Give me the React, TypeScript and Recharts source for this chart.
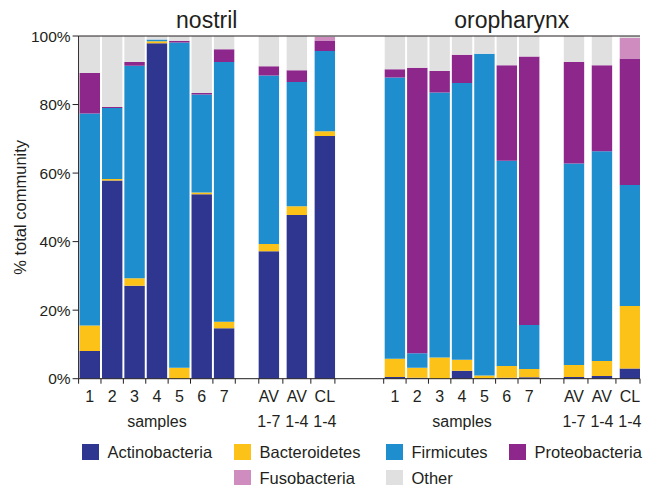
import React from 'react';
import { BarChart, Bar, XAxis, YAxis, ReferenceLine, ReferenceArea, Legend } from 'recharts';

// ---- data ----
const categories = ['1', '2', '3', '4', '5', '6', '7', 'AV 1-7', 'AV 1-4', 'CL 1-4'];
const siteNames = ['nostril', 'oropharynx'];
const phyla = ['Actinobacteria', 'Bacteroidetes', 'Firmicutes', 'Proteobacteria', 'Fusobacteria', 'Other'];
const phylumColors = ['#2e3690', '#fdc218', '#1f8ecf', '#8e278c', '#cf8cbf', '#e0e0e0'];
const yTicks = [0, 20, 40, 60, 80, 100];

const nostrilActinobacteria = [8.1, 57.8, 27.1, 97.9, 0, 53.8, 14.7, 37.2, 47.8, 70.8];
const nostrilBacteroidetes = [7.4, 0.5, 2.2, 0.6, 3.2, 0.5, 1.9, 2.1, 2.5, 1.4];
const nostrilFirmicutes = [61.9, 20.7, 62.0, 0.5, 94.9, 28.6, 75.8, 49.2, 36.3, 23.4];
const nostrilProteobacteria = [11.8, 0.3, 1.1, 0, 0.5, 0.5, 3.7, 2.7, 3.4, 3.1];
const nostrilFusobacteria = [0, 0, 0, 0, 0, 0, 0, 0, 0, 1.0];
const nostrilOther = [10.8, 20.7, 7.6, 1.0, 1.4, 16.6, 3.9, 8.8, 10.0, 0.3];

const oroActinobacteria = [0.5, 0.3, 0, 2.3, 0, 0.3, 0.4, 0.5, 0.8, 3.0];
const oroBacteroidetes = [5.3, 2.9, 6.2, 3.2, 0.9, 3.4, 2.4, 3.5, 4.4, 18.2];
const oroFirmicutes = [82.1, 4.2, 77.3, 80.8, 93.9, 59.9, 12.9, 58.8, 61.2, 35.3];
const oroProteobacteria = [2.4, 83.3, 6.3, 8.2, 0, 27.9, 78.3, 29.6, 25.1, 36.9];
const oroFusobacteria = [0, 0, 0, 0, 0, 0, 0, 0, 0, 6.0];
const oroOther = [9.7, 9.3, 10.2, 5.5, 5.2, 8.5, 6.0, 7.6, 8.5, 0.6];

const siteSeries = [
  [nostrilActinobacteria, nostrilBacteroidetes, nostrilFirmicutes, nostrilProteobacteria, nostrilFusobacteria, nostrilOther],
  [oroActinobacteria, oroBacteroidetes, oroFirmicutes, oroProteobacteria, oroFusobacteria, oroOther],
];

// ---- layout (in axis units; one sample band = 1) ----
const SAMPLE_COUNT = 7;
const AVG_LEAD = 1.5;
const AVG_STEP = 1.25;
const HALF_BAR = 0.45;
const SITE_STEP = 13.63;
const TICK_SIZE = 5;
const TEXT = '#231f20';
const FONT = '"Liberation Sans", Arial, Helvetica, sans-serif';

const centerOf = (i: number) => (i < SAMPLE_COUNT ? i + 0.5 : SAMPLE_COUNT + AVG_LEAD + (i - SAMPLE_COUNT) * AVG_STEP);
const siteEnd = centerOf(categories.length - 1) + HALF_BAR;
const domainMax = SITE_STEP + siteEnd;

const rows = siteNames.flatMap((_, s) =>
  categories.map((cat, i) => {
    const row: any = { pos: s * SITE_STEP + centerOf(i), cat };
    phyla.forEach((p, k) => {
      row[p] = siteSeries[s][k][i];
    });
    return row;
  })
);

type TickInfo = { kind: 'edge' } | { kind: 'label'; label: string; sub?: string };
const tickInfo = new Map<string, TickInfo>();
const tickValues: number[] = [];
const keyOf = (v: number) => v.toFixed(4);
siteNames.forEach((_, s) => {
  const off = s * SITE_STEP;
  const edges: number[] = [];
  for (let i = 0; i <= SAMPLE_COUNT; i++) edges.push(i);
  const avgCenters = categories.slice(SAMPLE_COUNT).map((_, j) => centerOf(SAMPLE_COUNT + j));
  edges.push(avgCenters[0] - HALF_BAR);
  for (let j = 1; j < avgCenters.length; j++) edges.push((avgCenters[j - 1] + avgCenters[j]) / 2);
  edges.push(avgCenters[avgCenters.length - 1] + HALF_BAR);
  edges.forEach((e) => {
    const v = off + e;
    tickValues.push(v);
    tickInfo.set(keyOf(v), { kind: 'edge' });
  });
  categories.forEach((cat, i) => {
    const v = off + centerOf(i);
    tickValues.push(v);
    tickInfo.set(keyOf(v), { kind: 'label', label: cat, sub: i === 3 ? 'samples' : undefined });
  });
});
tickValues.sort((a, b) => a - b);

const XTick = (props: any) => {
  const { x, y, payload } = props;
  const info = tickInfo.get(keyOf(payload.value));
  const axisY = y - TICK_SIZE;
  if (!info) return null;
  if (info.kind === 'edge') {
    return <line x1={x} x2={x} y1={axisY} y2={axisY + TICK_SIZE} stroke={TEXT} strokeWidth={1} />;
  }
  const lines = info.label.split(' ');
  if (info.sub) lines.push(info.sub);
  return (
    <g>
      {lines.map((t, i) => (
        <text key={i} x={x} y={axisY + 23 + i * 25} textAnchor="middle" fill={TEXT} fontSize={16} fontFamily={FONT}>
          {t}
        </text>
      ))}
    </g>
  );
};

const LegendContent = () => {
  const placement = [
    [1, 1], [1, 2], [1, 3], [1, 4], [2, 2], [2, 3],
  ];
  return (
    <div
      style={{
        display: 'grid',
        gridTemplateColumns: '152px 152px 123px 136px',
        gridTemplateRows: '26px 26px',
        paddingLeft: 82,
        fontFamily: FONT,
        fontSize: 16.5,
        color: TEXT,
      }}
    >
      {phyla.map((p, k) => (
        <div
          key={p}
          style={{ gridRow: placement[k][0], gridColumn: placement[k][1], display: 'flex', alignItems: 'center', whiteSpace: 'nowrap' }}
        >
          <span style={{ display: 'inline-block', width: 17, height: 16, background: phylumColors[k], marginRight: 8.5 }} />
          {p}
        </div>
      ))}
    </div>
  );
};

export default function App() {
  return (
    <div style={{ position: 'absolute', left: 0, top: 0, width: 645, height: 485, background: '#fff' }}>
      <BarChart width={645} height={485} data={rows} margin={{ top: 36, right: 5, bottom: 46.3, left: 0 }}>
        <XAxis
          dataKey="pos"
          type="number"
          domain={[0, domainMax]}
          allowDataOverflow
          ticks={tickValues}
          interval={0}
          tick={<XTick />}
          tickLine={false}
          tickSize={TICK_SIZE}
          tickMargin={0}
          height={60}
          axisLine={{ stroke: TEXT, strokeWidth: 1 }}
        />
        <YAxis
          width={78.6}
          domain={[0, 100]}
          allowDataOverflow
          ticks={yTicks}
          interval={0}
          tickFormatter={(v: number) => `${v}%`}
          tickSize={6}
          tickMargin={2}
          axisLine={{ stroke: TEXT, strokeWidth: 1 }}
          tickLine={{ stroke: TEXT }}
          tick={{ fill: TEXT, fontSize: 15.5, fontFamily: FONT }}
          label={{ value: '% total community', angle: -90, position: 'center', dx: -19, fill: TEXT, fontSize: 16.5, fontFamily: FONT }}
        />
        {phyla.map((p, k) => (
          <Bar key={p} dataKey={p} stackId="a" fill={phylumColors[k]} barSize={20.4} isAnimationActive={false} />
        ))}
        <ReferenceLine y={100} stroke={TEXT} strokeWidth={1} ifOverflow="visible" />
        {siteNames.map((name, s) => (
          <ReferenceArea
            key={name}
            x1={s * SITE_STEP}
            x2={s * SITE_STEP + siteEnd}
            y1={100}
            y2={109.4}
            ifOverflow="visible"
            fill="none"
            fillOpacity={0}
            stroke="none"
            label={{ value: name, position: 'center', fill: TEXT, fontSize: 23, fontFamily: FONT }}
          />
        ))}
        <Legend
          verticalAlign="middle"
          layout="horizontal"
          content={<LegendContent />}
          wrapperStyle={{ top: 439, left: 0, width: 645 }}
        />
      </BarChart>
    </div>
  );
}
